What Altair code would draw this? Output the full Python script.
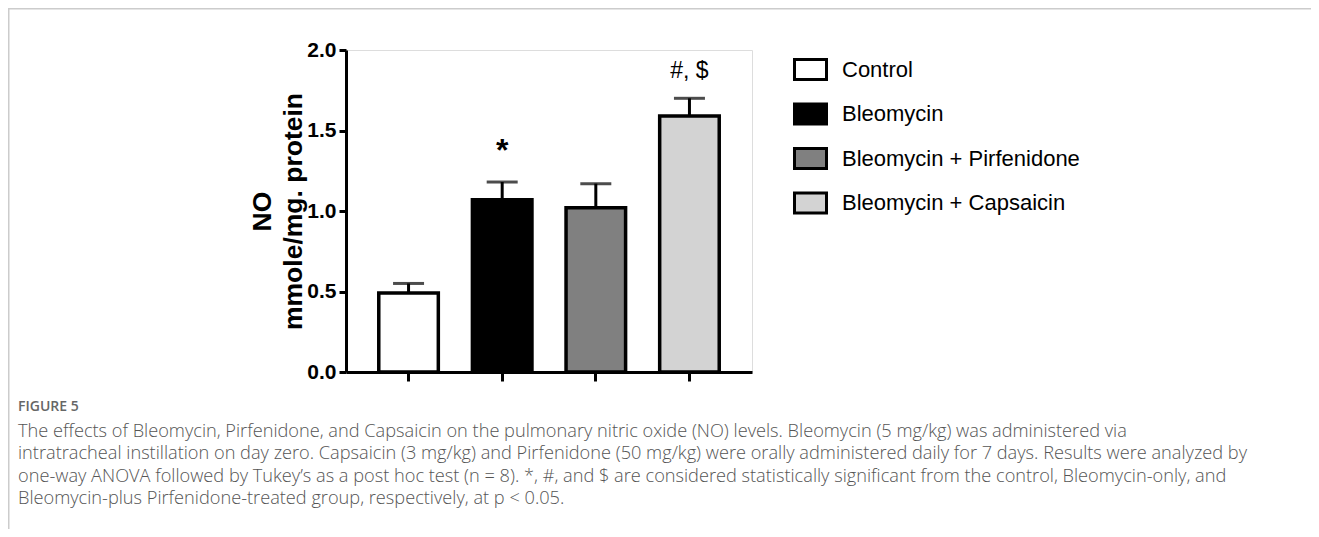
import altair as alt
import pandas as pd

groups = ["Control", "Bleomycin", "Bleomycin + Pirfenidone", "Bleomycin + Capsaicin"]
means = [0.49, 1.07, 1.02, 1.59]
sems = [0.06, 0.11, 0.15, 0.11]
fills = ["#ffffff", "#000000", "#808080", "#d3d3d3"]
sig = ["", "*", "", "#, $"]

y_ticks = [0.0, 0.5, 1.0, 1.5, 2.0]
y_title = ["NO", "mmole/mg. protein"]

caption_head = "FIGURE 5"
caption_lines = [
    "The effects of Bleomycin, Pirfenidone, and Capsaicin on the pulmonary nitric oxide (NO) levels. Bleomycin (5 mg/kg) was administered via",
    "intratracheal instillation on day zero. Capsaicin (3 mg/kg) and Pirfenidone (50 mg/kg) were orally administered daily for 7 days. Results were analyzed by",
    "one-way ANOVA followed by Tukey\u2019s as a post hoc test (n = 8). *, #, and $ are considered statistically significant from the control, Bleomycin-only, and",
    "Bleomycin-plus Pirfenidone-treated group, respectively, at p < 0.05.",
]

df = pd.DataFrame({
    "group": groups,
    "mean": means,
    "upper": [m + s for m, s in zip(means, sems)],
    "sig": sig,
})

FONT = "Liberation Sans"
W, H = 406, 322
PL, PT = 338, 42
PR = 1303 - PL - W
PB = 521 - PT - H

x = alt.X(
    "group:N", sort=groups,
    scale=alt.Scale(paddingInner=0.364, paddingOuter=0.35),
    axis=alt.Axis(labels=False, title=None, domainWidth=3, domainColor="black",
                  tickColor="black", tickWidth=3, tickSize=9),
)
y_scale = alt.Scale(domain=[0, 2], nice=False)
y_axis = alt.Axis(values=y_ticks, format=".1f", labelFont=FONT, labelFontSize=21,
                  labelFontWeight="bold", labelColor="black", labelPadding=3,
                  domainWidth=3, domainColor="black", tickColor="black",
                  tickWidth=3, tickSize=7, grid=False,
                  title=y_title, titleFont=FONT, titleFontSize=26.5,
                  titleFontWeight="bold", titleColor="black", titleLineHeight=31,
                  titlePadding=-1)

base = alt.Chart(df)

err_rule = base.mark_rule(color="black", strokeWidth=3).encode(
    x=x, y=alt.Y("mean:Q", scale=y_scale, axis=y_axis), y2="upper:Q")
err_cap = base.mark_tick(color="black", thickness=3, size=31, orient="horizontal").encode(
    x=x, y=alt.Y("upper:Q", scale=y_scale))

bars = base.mark_bar(stroke="black", strokeWidth=3.5).encode(
    x=x,
    y=alt.Y("mean:Q", scale=y_scale),
    fill=alt.Fill(
        "group:N", sort=groups,
        scale=alt.Scale(domain=groups, range=fills),
        legend=alt.Legend(
            orient="none", legendX=453, legendY=8, title=None,
            symbolType="M-1.6,-1H1.6V1H-1.6Z", symbolSize=400,
            symbolStrokeColor="black", symbolStrokeWidth=3, symbolOpacity=1,
            labelFont=FONT, labelFontSize=22, labelColor="black",
            labelOffset=20, rowPadding=11.5, labelLimit=400,
        ),
    ),
)

star_text = base.transform_filter(alt.datum.sig == "*").mark_text(
    font=FONT, fontSize=32, fontWeight="bold", color="black", baseline="alphabetic", dy=-21).encode(
    x=x, y=alt.Y("upper:Q", scale=y_scale), text="sig:N")
hash_text = base.transform_filter(alt.datum.sig == "#, $").mark_text(
    font=FONT, fontSize=23, color="black", baseline="alphabetic", dy=-20).encode(
    x=x, y=alt.Y("upper:Q", scale=y_scale), text="sig:N")

layers = [err_rule, err_cap, bars, star_text, hash_text]

# page border lines
border_top = alt.Chart(pd.DataFrame({"a": [0]})).mark_rule(color="#cccccc", strokeWidth=1.5).encode(
    x=alt.value(-PL), x2=alt.value(W + PR), y=alt.value(-PT + 0.75))
border_left = alt.Chart(pd.DataFrame({"a": [0]})).mark_rule(color="#cccccc", strokeWidth=1.5).encode(
    x=alt.value(-PL + 0.75), y=alt.value(-PT), y2=alt.value(H + PB))
layers += [border_top, border_left]

CAP_X = 18 - 8 - PL
head = alt.Chart(pd.DataFrame({"t": [caption_head]})).mark_text(
    font="Open Sans", fontSize=14, fontWeight=600, color="#666666", align="left",
    baseline="alphabetic").encode(x=alt.value(CAP_X), y=alt.value(411 - 8 - PT), text="t:N")
layers.append(head)
for i, line in enumerate(caption_lines):
    layers.append(alt.Chart(pd.DataFrame({"t": [line]})).mark_text(
        font="Open Sans", fontSize=18.2, fontWeight=300, color="#555555", align="left",
        baseline="alphabetic").encode(
        x=alt.value(CAP_X), y=alt.value(437 + 22.3 * i - 8 - PT), text="t:N"))

chart = alt.layer(*layers).properties(
    width=W, height=H,
    autosize=alt.AutoSizeParams(type="none"),
    padding={"left": PL, "top": PT, "right": PR, "bottom": PB},
).configure_view(stroke=None).configure(background="white")

chart.save("out.html", embed_options={"renderer": "svg", "actions": False})
